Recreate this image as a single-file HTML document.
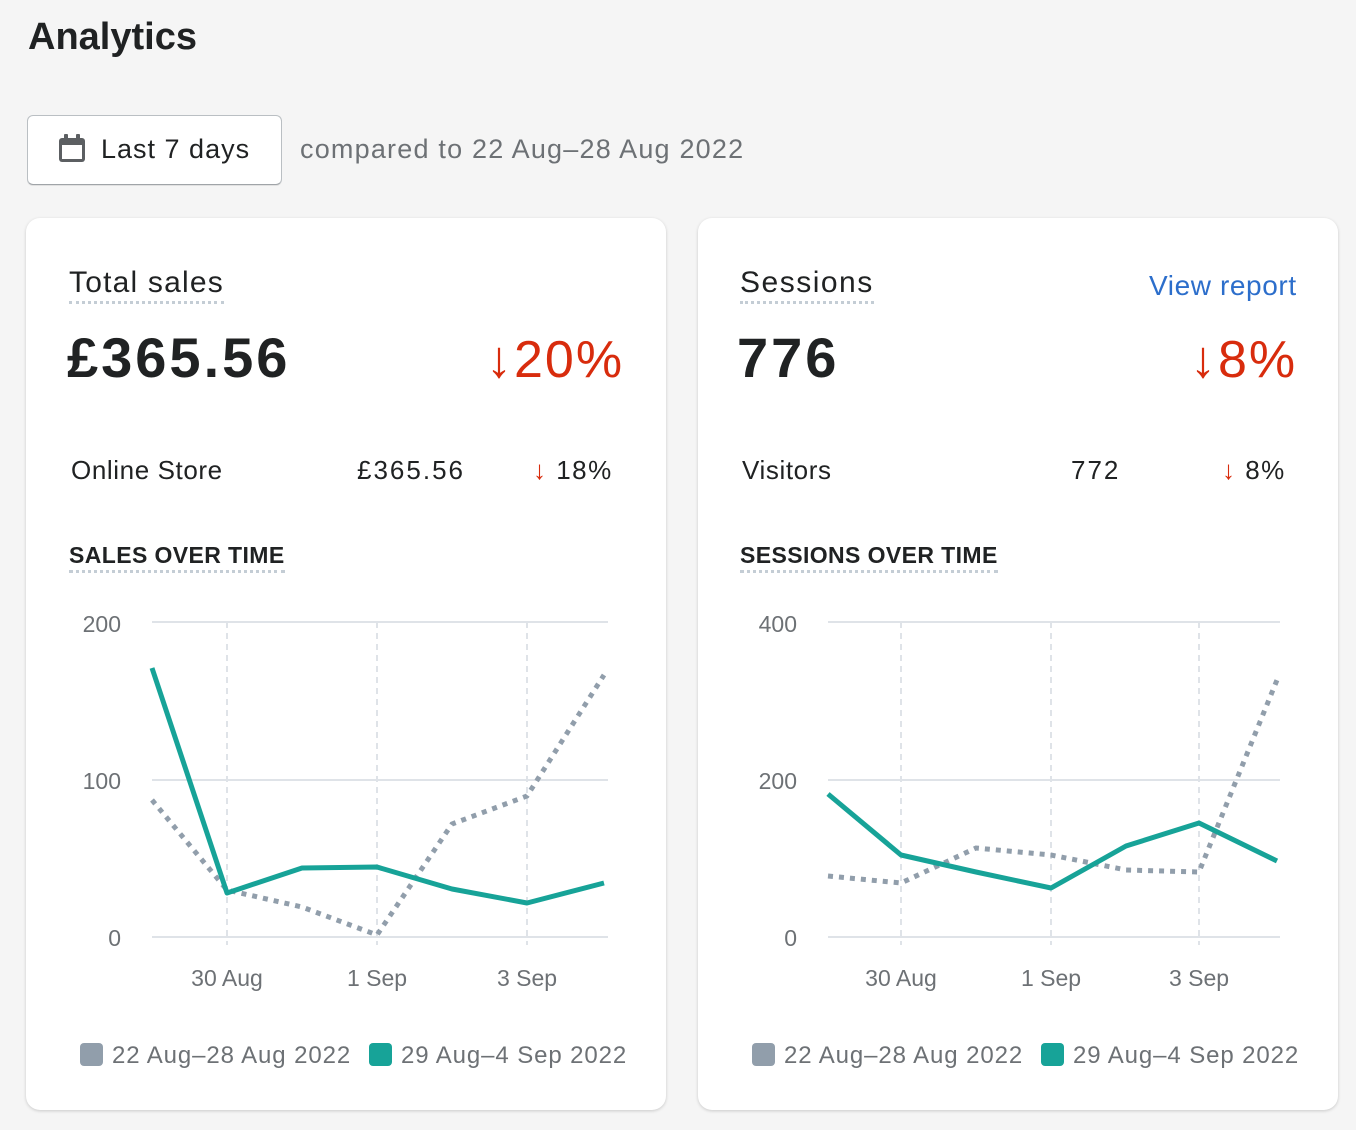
<!DOCTYPE html>
<html><head><meta charset="utf-8"><style>
body{margin:0;width:1356px;height:1130px;background:#f5f5f5;font-family:"Liberation Sans",sans-serif;position:relative;overflow:hidden;color:#202223}
.a{position:absolute;white-space:nowrap}
.card{position:absolute;top:218px;width:640px;height:892px;background:#fff;border-radius:14px;box-shadow:0 1px 3px rgba(0,0,0,.18)}
.dot{border-bottom:3px dotted #c4cdd5;padding-bottom:1px}
.red{color:#d82c0d}
.g{color:#6d7175}
</style></head><body>
<div class="a" style="left:28px;top:16px;font-size:38px;font-weight:bold">Analytics</div>
<div class="a" style="left:27px;top:115px;width:253px;height:68px;background:#fff;border:1px solid #babfc3;border-bottom-color:#a0a4a8;border-radius:6px;box-shadow:0 1px 0 rgba(0,0,0,.08)"></div>
<svg class="a" style="left:58px;top:134px" width="29" height="30"><rect x="1" y="4" width="26" height="24" rx="3" fill="#5c5f62"/><rect x="4" y="11" width="20" height="14" fill="#fff"/><rect x="6" y="0" width="4" height="7" rx="1" fill="#5c5f62"/><rect x="18" y="0" width="4" height="7" rx="1" fill="#5c5f62"/></svg>
<div class="a" style="left:101px;top:134px;font-size:27px;letter-spacing:1px">Last 7 days</div>
<div class="a g" style="left:300px;top:134px;font-size:27px;letter-spacing:1.2px">compared to 22 Aug–28 Aug 2022</div>

<div class="card" style="left:26px"></div>
<div class="card" style="left:698px"></div>

<div class="a dot" style="left:69px;top:266px;font-size:30px;letter-spacing:1.2px">Total sales</div>
<div class="a" style="left:67px;top:325px;font-size:56px;font-weight:bold;letter-spacing:3px">£365.56</div>
<div class="a red" style="left:486px;top:330px;font-size:52px;letter-spacing:2px">↓20%</div>
<div class="a" style="left:71px;top:455px;font-size:26px;letter-spacing:.6px">Online Store</div>
<div class="a" style="left:357px;top:455px;font-size:26px;letter-spacing:2px">£365.56</div>
<div class="a" style="left:533px;top:455px;font-size:26px;letter-spacing:1.5px"><span class="red">↓</span>&nbsp;18%</div>
<div class="a dot" style="left:69px;top:542px;font-size:23px;font-weight:bold;letter-spacing:.4px">SALES OVER TIME</div>

<div class="a dot" style="left:740px;top:266px;font-size:30px;letter-spacing:1.5px">Sessions</div>
<div class="a" style="left:1149px;top:270px;font-size:28px;color:#2c6ecb;letter-spacing:.6px">View report</div>
<div class="a" style="left:737px;top:325px;font-size:56px;font-weight:bold;letter-spacing:3px">776</div>
<div class="a red" style="left:1190px;top:330px;font-size:52px;letter-spacing:2px">↓8%</div>
<div class="a" style="left:742px;top:455px;font-size:26px;letter-spacing:.6px">Visitors</div>
<div class="a" style="left:1071px;top:455px;font-size:26px;letter-spacing:2px">772</div>
<div class="a" style="left:1222px;top:455px;font-size:26px;letter-spacing:1.5px"><span class="red">↓</span>&nbsp;8%</div>
<div class="a dot" style="left:740px;top:542px;font-size:23px;font-weight:bold;letter-spacing:.4px">SESSIONS OVER TIME</div>

<svg class="a" style="left:0;top:0" width="1356" height="1130" font-family="Liberation Sans, sans-serif" font-size="23" fill="#6d7175">
<g stroke="#dfe3e8" stroke-width="2">
<line x1="152" y1="622" x2="608" y2="622"/><line x1="152" y1="780" x2="608" y2="780"/><line x1="152" y1="937" x2="608" y2="937"/>
<line x1="828" y1="622" x2="1280" y2="622"/><line x1="828" y1="780" x2="1280" y2="780"/><line x1="828" y1="937" x2="1280" y2="937"/>
</g>
<g stroke="#dfe3e8" stroke-width="2" stroke-dasharray="6 5">
<line x1="227" y1="622" x2="227" y2="945"/><line x1="377" y1="622" x2="377" y2="945"/><line x1="527" y1="622" x2="527" y2="945"/>
<line x1="901" y1="622" x2="901" y2="945"/><line x1="1051" y1="622" x2="1051" y2="945"/><line x1="1199" y1="622" x2="1199" y2="945"/>
</g>
<text x="121" y="632" text-anchor="end">200</text><text x="121" y="789" text-anchor="end">100</text><text x="121" y="946" text-anchor="end">0</text>
<text x="797" y="632" text-anchor="end">400</text><text x="797" y="789" text-anchor="end">200</text><text x="797" y="946" text-anchor="end">0</text>
<g text-anchor="middle"><text x="227" y="986">30 Aug</text><text x="377" y="986">1 Sep</text><text x="527" y="986">3 Sep</text>
<text x="901" y="986">30 Aug</text><text x="1051" y="986">1 Sep</text><text x="1199" y="986">3 Sep</text></g>
<g fill="none" stroke-width="5">
<polyline stroke="#919eab" stroke-dasharray="5 6" points="152,800 227,890 302,907 377,935 452,824 527,796 604,675"/>
<polyline stroke="#17a398" stroke-linejoin="round" points="152,668 227,893 302,868 377,867 452,889 527,903 604,883"/>
<polyline stroke="#919eab" stroke-dasharray="5 6" points="828,876 901,883 976,848 1051,855 1126,870 1199,872 1277,680"/>
<polyline stroke="#17a398" stroke-linejoin="round" points="828,794 901,855 976,872 1051,888 1126,846 1199,823 1277,861"/>
</g>
<g font-size="24" letter-spacing="0.9">
<rect x="80" y="1043" width="23" height="23" rx="4" fill="#919eab"/><text x="112" y="1063">22 Aug–28 Aug 2022</text>
<rect x="369" y="1043" width="23" height="23" rx="4" fill="#17a398"/><text x="401" y="1063">29 Aug–4 Sep 2022</text>
<rect x="752" y="1043" width="23" height="23" rx="4" fill="#919eab"/><text x="784" y="1063">22 Aug–28 Aug 2022</text>
<rect x="1041" y="1043" width="23" height="23" rx="4" fill="#17a398"/><text x="1073" y="1063">29 Aug–4 Sep 2022</text>
</g>
</svg>
</body></html>
